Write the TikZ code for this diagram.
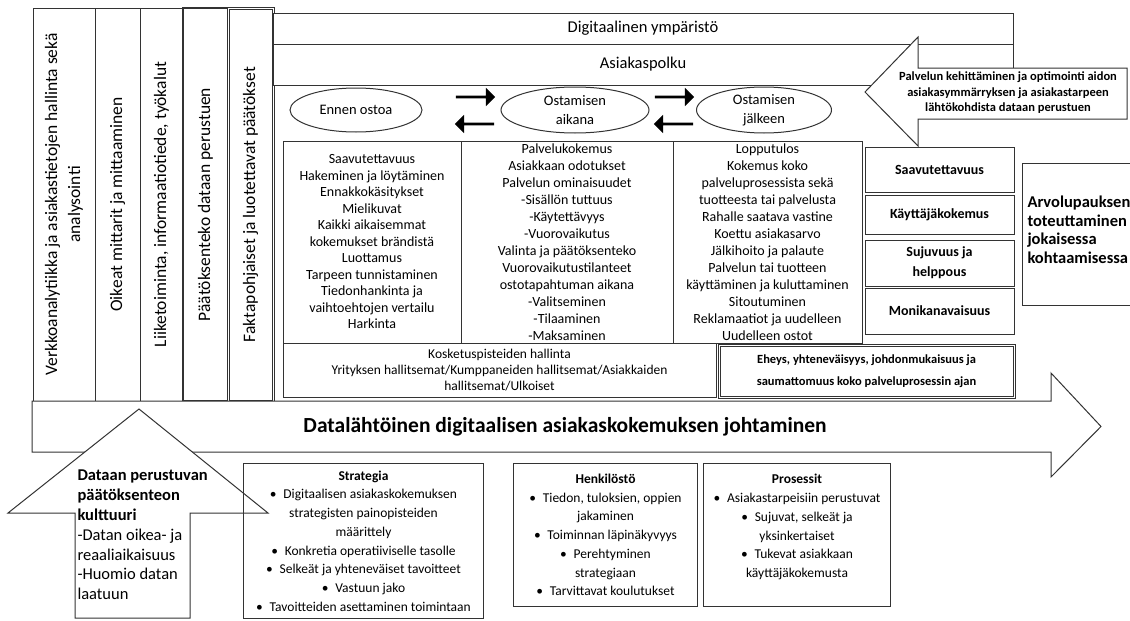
\documentclass[tikz,border=0pt]{standalone}
\usepackage{fontspec}
\setmainfont{Carlito}
\usetikzlibrary{shapes.geometric, shapes.arrows, arrows.meta, positioning}

\begin{document}
\begin{tikzpicture}[x=1pt, y=-1pt,
    line width=1pt,
    colbox/.style={rectangle, draw=black!80, rotate=90, inner sep=0pt,
                   align=center, font=\fontsize{17.5}{23}\selectfont},
    bar/.style={rectangle, draw=black!80, fill=white, inner sep=0pt,
                minimum width=740pt, font=\fontsize{16.5}{20}\selectfont},
    phase/.style={ellipse, draw=black!80, fill=white, inner sep=0pt,
                  align=center, font=\fontsize{14.5}{19}\selectfont},
    blk/.style={single arrow, draw=black, fill=black, inner sep=0pt,
                minimum height=38pt, minimum width=16pt,
                single arrow head extend=4pt, single arrow head indent=0pt},
    cell/.style={rectangle, draw=black!80, inner sep=0pt, align=center,
                 font=\fontsize{14}{17}\selectfont},
    side/.style={rectangle, draw=black!80, inner sep=0pt, minimum width=149pt,
                 align=center, font=\bfseries\fontsize{14}{20}\selectfont},
    lower/.style={rectangle, draw=black!80, inner sep=0pt, align=center,
                  anchor=north west, font=\fontsize{13.5}{18.7}\selectfont},
    blockpath/.style={draw=black!80, fill=white, line join=miter},
  ]
    \useasboundingbox (0,0) rectangle (1130,621);

    % Vasemman reunan sarakkeet
    \node[colbox, minimum width=393pt, minimum height=62pt] (vk) at (64,204.5)
      {Verkkoanalytiikka ja asiakastietojen hallinta sekä\\analysointi};
    \node[colbox, minimum width=393pt, minimum height=45pt] (om) at (117.5,204.5)
      {Oikeat mittarit ja mittaaminen};
    \node[colbox, minimum width=393pt, minimum height=43pt] (lt) at (161.5,204.5)
      {Liiketoiminta, informaatiotiede, työkalut};
    \node[colbox, minimum width=393pt, minimum height=45pt, line width=2pt] (pd) at (205.5,204.5)
      {Päätöksenteko dataan perustuen};
    \node[colbox, minimum width=393pt, minimum height=45pt, double, double distance=1pt] (fp) at (250.5,204.5)
      {Faktapohjaiset ja luotettavat päätökset};

    % Ylälaatikot
    \node[bar, minimum height=31pt] (dy) at (643,28.5) {Digitaalinen ympäristö};
    \node[bar, minimum height=41pt] (ap) at (643,64.5) {Asiakaspolku};

    % Vaiheet
    \node[phase, minimum width=132pt, minimum height=44pt] (eo) at (356,110) {Ennen ostoa};
    \node[phase, minimum width=148pt, minimum height=46pt] (oa) at (575,110) {Ostamisen\\aikana};
    \node[phase, minimum width=135pt, minimum height=46pt] (oj) at (764,110) {Ostamisen\\jälkeen};
    \node[blk] (r1) at (475,97) {};
    \node[blk, shape border rotate=180] (l1) at (475,124) {};
    \node[blk] (r2) at (674,97) {};
    \node[blk, shape border rotate=180] (l2) at (674,124) {};

    % Vaiheiden sisältö
    \node[cell, minimum width=178pt, minimum height=202pt, font=\fontsize{14}{16.5}\selectfont] (t1) at (372,242)
      {Saavutettavuus\\Hakeminen ja löytäminen\\Ennakkokäsitykset\\Mielikuvat\\
       Kaikki aikaisemmat\\kokemukset brändistä\\Luottamus\\Tarpeen tunnistaminen\\
       Tiedonhankinta ja\\vaihtoehtojen vertailu\\Harkinta};
    \node[cell, minimum width=212pt, minimum height=202pt] (t2) at (567,242)
      {Palvelukokemus\\Asiakkaan odotukset\\Palvelun ominaisuudet\\-Sisällön tuttuus\\
       -Käytettävyys\\-Vuorovaikutus\\Valinta ja päätöksenteko\\Vuorovaikutustilanteet\\
       ostotapahtuman aikana\\-Valitseminen\\-Tilaaminen\\-Maksaminen};
    \node[cell, minimum width=189pt, minimum height=202pt] (t3) at (767.5,242)
      {Lopputulos\\Kokemus koko\\palveluprosessista sekä\\tuotteesta tai palvelusta\\
       Rahalle saatava vastine\\Koettu asiakasarvo\\Jälkihoito ja palaute\\
       Palvelun tai tuotteen\\käyttäminen ja kuluttaminen\\Sitoutuminen\\
       Reklamaatiot ja uudelleen\\Uudelleen ostot};
    \node[cell, minimum width=433pt, minimum height=54pt, font=\fontsize{13.5}{16}\selectfont] (kp) at (499.5,370)
      {Kosketuspisteiden hallinta\\Yrityksen hallitsemat/Kumppaneiden hallitsemat/Asiakkaiden\\hallitsemat/Ulkoiset};
    \node[cell, minimum width=295pt, minimum height=52pt, double, double distance=1pt,
          font=\bfseries\fontsize{12.5}{22}\selectfont] (eh) at (866.5,371)
      {Eheys, yhteneväisyys, johdonmukaisuus ja\\saumattomuus koko palveluprosessin ajan};

    % Oikean reunan laatikot
    \node[side, minimum height=45pt] (sa) at (939.5,169.5) {Saavutettavuus};
    \node[side, minimum height=39pt] (kk) at (939.5,214.5) {Käyttäjäkokemus};
    \node[side, minimum height=46pt] (sh) at (939.5,263) {Sujuvuus ja\\helppous};
    \node[side, minimum height=46pt] (mk) at (939.5,311) {Monikanavaisuus};
    \node[lower, minimum width=115pt, minimum height=142pt] (av) at (1022,163) {};
    \node[anchor=west, align=left, inner sep=0pt, font=\bfseries\fontsize{16.5}{18.5}\selectfont]
      (avt) at ([xshift=5pt, yshift=4.5pt]av.west)
      {Arvolupauksen\\toteuttaminen\\jokaisessa\\kohtaamisessa};

    % Palvelun kehittäminen -nuoli
    \filldraw[blockpath] (918,68) -- (1127,68) -- (1127,119) -- (918,119) -- (918,146)
      -- (865,92) -- (918,37) -- cycle;
    \node[align=center, inner sep=0pt, font=\bfseries\fontsize{12.5}{15.5}\selectfont] (pk) at (1008,93)
      {Palvelun kehittäminen ja optimointi aidon\\asiakasymmärryksen ja asiakastarpeen\\lähtökohdista dataan perustuen};

    % Iso nuoli
    \filldraw[blockpath] (32,401) -- (1051,401) -- (1051,373) -- (1101,426.5) -- (1051,477)
      -- (1051,452) -- (32,452) -- cycle;
    \node[inner sep=0pt, font=\bfseries\fontsize{21.5}{24}\selectfont] (dj) at (565,427)
      {Datalähtöinen digitaalisen asiakaskokemuksen johtaminen};

    % Kulttuuri-nuoli
    \filldraw[blockpath] (139,409) -- (268,513) -- (190,513) -- (190,618) -- (75,618)
      -- (75,513) -- (8,513) -- cycle;
    \node[anchor=west, align=left, inner sep=0pt, font=\fontsize{16.5}{19.8}\selectfont] (dk) at (77,535)
      {\textbf{Dataan perustuvan}\\\textbf{päätöksenteon}\\\textbf{kulttuuri}\\
       -Datan oikea- ja\\reaaliaikaisuus\\-Huomio datan\\laatuun};

    % Alalaatikot
    \node[lower, minimum width=240pt, minimum height=155pt] (st) at (243,463)
      {\textbf{Strategia}\\•\enspace Digitaalisen asiakaskokemuksen\\strategisten painopisteiden\\määrittely\\
       •\enspace Konkretia operatiiviselle tasolle\\•\enspace Selkeät ja yhteneväiset tavoitteet\\
       •\enspace Vastuun jako\\•\enspace Tavoitteiden asettaminen toimintaan};
    \node[lower, minimum width=184pt, minimum height=143pt] (hk) at (513,463)
      {\textbf{Henkilöstö}\\•\enspace Tiedon, tuloksien, oppien\\jakaminen\\•\enspace Toiminnan läpinäkyvyys\\
       •\enspace Perehtyminen\\strategiaan\\•\enspace Tarvittavat koulutukset};
    \node[lower, minimum width=187pt, minimum height=143pt] (pr) at (703,463) {};
    \node[below=11pt of pr.north, align=center, inner sep=0pt, font=\fontsize{13.5}{18.7}\selectfont] (prt)
      {\textbf{Prosessit}\\•\enspace Asiakastarpeisiin perustuvat\\•\enspace Sujuvat, selkeät ja\\yksinkertaiset\\
       •\enspace Tukevat asiakkaan\\käyttäjäkokemusta};
\end{tikzpicture}
\end{document}
